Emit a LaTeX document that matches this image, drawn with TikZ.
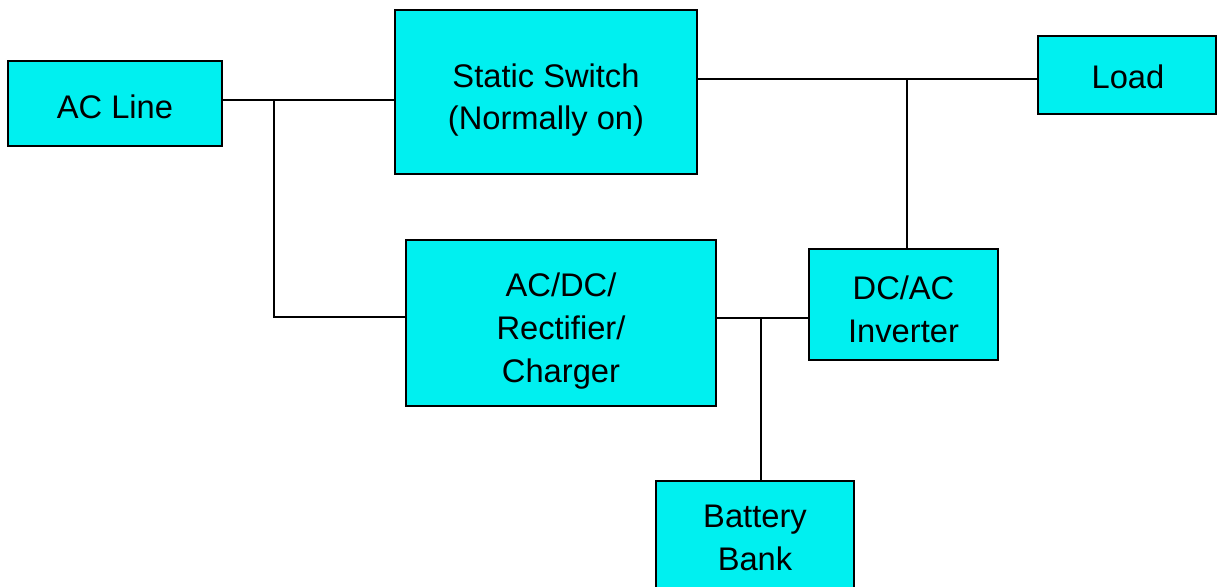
\documentclass[tikz,border=0pt]{standalone}
\usepackage{fontspec}
\setmainfont{Liberation Sans}
\definecolor{boxcyan}{RGB}{0,240,240}
\begin{document}
\begin{tikzpicture}[x=0.02cm,y=-0.02cm,
  blk/.style={draw=black, fill=boxcyan, line width=1.1pt, inner sep=0pt},
  txt/.style={align=center, inner sep=0pt, font=\fontsize{18.6}{24.4}\selectfont},
  wire/.style={draw=black, line width=1.1pt}]
\clip (0,0) rectangle (1218,586);
\node[blk, minimum width=4.28cm, minimum height=1.70cm] (acline) at (115,103.5) {};
\node[blk, minimum width=6.04cm, minimum height=3.28cm] (static) at (546,92) {};
\node[blk, minimum width=3.56cm, minimum height=1.56cm] (load) at (1127,75) {};
\node[blk, minimum width=6.2cm, minimum height=3.32cm] (rect) at (561,323) {};
\node[blk, minimum width=3.78cm, minimum height=2.22cm] (inv) at (903.5,304.5) {};
\node[blk, minimum width=3.96cm, minimum height=2.32cm] (batt) at (755,539) {};
\node[txt] (acline-t) at (115,106.5) {AC Line};
\node[txt] (static-t) at (546,100) {Static Switch\\(Normally on)};
\node[txt] (load-t) at (1128,77) {Load};
\node[txt] (rect-t) at (561,331) {AC/DC/\\Rectifier/\\Charger};
\node[txt] (inv-t) at (903.5,309.5) {DC/AC\\Inverter};
\node[txt] (batt-t) at (755,538) {Battery\\Bank};
\coordinate (j1) at (274,100);
\coordinate (j3) at (274,317);
\coordinate (j2) at (907,79);
\coordinate (j4) at (761,318);
\draw[wire] (acline.east |- j1) -- (static.west |- j1);
\draw[wire] (j1) -- (j3) -- (rect.west |- j3);
\draw[wire] (static.east |- j2) -- (load.west |- j2);
\draw[wire] (j2) -- (j2 |- inv.north);
\draw[wire] (rect.east |- j4) -- (inv.west |- j4);
\draw[wire] (j4) -- (j4 |- batt.north);
\end{tikzpicture}
\end{document}
